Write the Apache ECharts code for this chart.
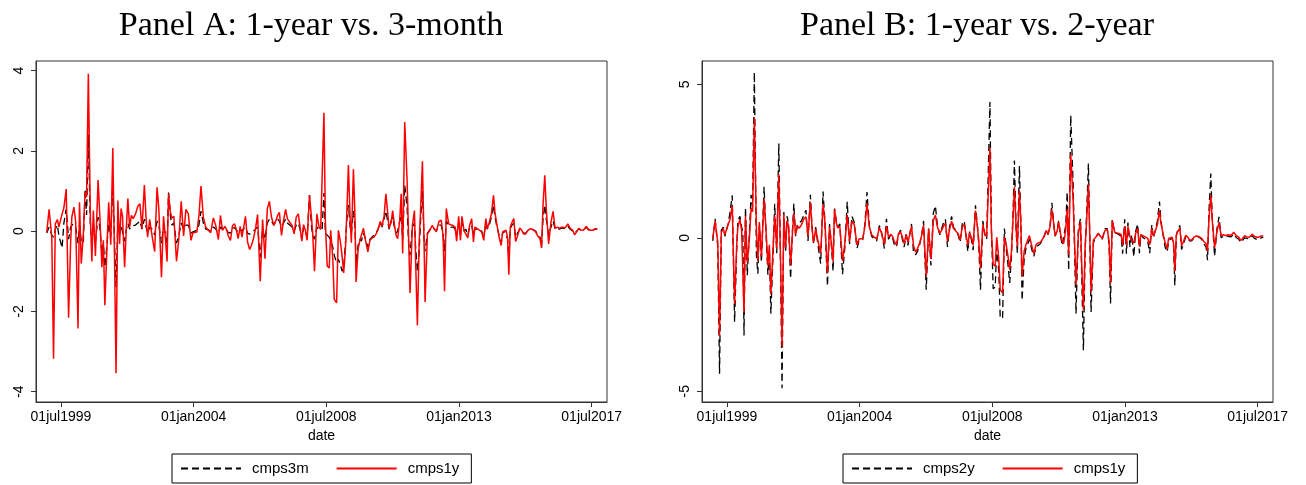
<!DOCTYPE html>
<html>
<head>
<meta charset="utf-8">
<title>cmps</title>
<script src="https://cdn.jsdelivr.net/npm/echarts@6/dist/echarts.min.js"></script>
<style>
  html, body { margin: 0; padding: 0; background: #fff; }
  #chart { width: 1306px; height: 485px; }
</style>
</head>
<body>
<div id="chart"></div>
<script>
// event dates as decimal years
const dates = [
  1999.02, 1999.10, 1999.19, 1999.25, 1999.31, 1999.38, 1999.43, 1999.54, 1999.60, 1999.68,
  1999.76, 1999.83, 1999.87, 1999.94, 2000.00, 2000.04, 2000.08, 2000.13, 2000.19, 2000.26,
  2000.32, 2000.37, 2000.43, 2000.50, 2000.55, 2000.60, 2000.67, 2000.76, 2000.82, 2000.89,
  2000.94, 2000.99, 2001.06, 2001.12, 2001.19, 2001.26, 2001.32, 2001.37, 2001.43, 2001.49,
  2001.54, 2001.59, 2001.66, 2001.72, 2001.77, 2001.83, 2001.89, 2001.95, 2002.03, 2002.11,
  2002.18, 2002.25, 2002.33, 2002.39, 2002.44, 2002.51, 2002.59, 2002.68, 2002.76, 2002.82,
  2002.91, 2002.98, 2003.04, 2003.10, 2003.15, 2003.21, 2003.26, 2003.33, 2003.42, 2003.50,
  2003.58, 2003.66, 2003.74, 2003.82, 2003.91, 2003.98, 2004.04, 2004.11, 2004.18, 2004.25,
  2004.33, 2004.41, 2004.50, 2004.58, 2004.67, 2004.75, 2004.84, 2004.91, 2004.98, 2005.06,
  2005.13, 2005.17, 2005.25, 2005.32, 2005.39, 2005.44, 2005.51, 2005.58, 2005.64, 2005.69,
  2005.76, 2005.83, 2005.90, 2005.96, 2006.03, 2006.10, 2006.17, 2006.21, 2006.26, 2006.34,
  2006.42, 2006.50, 2006.57, 2006.64, 2006.72, 2006.78, 2006.85, 2006.91, 2006.98, 2007.05,
  2007.12, 2007.18, 2007.26, 2007.34, 2007.41, 2007.48, 2007.55, 2007.61, 2007.67, 2007.73,
  2007.79, 2007.85, 2007.93, 2008.00, 2008.04, 2008.10, 2008.18, 2008.25, 2008.31, 2008.36,
  2008.42, 2008.47, 2008.53, 2008.60, 2008.65, 2008.72, 2008.77, 2008.85, 2008.91, 2008.98,
  2009.04, 2009.09, 2009.15, 2009.21, 2009.25, 2009.31, 2009.35, 2009.42, 2009.47, 2009.51,
  2009.58, 2009.64, 2009.69, 2009.76, 2009.83, 2009.91, 2009.98, 2010.05, 2010.12, 2010.19,
  2010.26, 2010.33, 2010.39, 2010.46, 2010.52, 2010.57, 2010.63, 2010.70, 2010.75, 2010.81,
  2010.87, 2010.92, 2010.99, 2011.04, 2011.09, 2011.16, 2011.24, 2011.29, 2011.34, 2011.42,
  2011.49, 2011.53, 2011.59, 2011.65, 2011.70, 2011.76, 2011.82, 2011.85, 2011.93, 2012.01,
  2012.09, 2012.15, 2012.23, 2012.32, 2012.40, 2012.46, 2012.51, 2012.57, 2012.65, 2012.72,
  2012.80, 2012.87, 2012.92, 2012.99, 2013.05, 2013.10, 2013.17, 2013.23, 2013.30, 2013.36,
  2013.43, 2013.49, 2013.54, 2013.62, 2013.70, 2013.77, 2013.84, 2013.91, 2013.96, 2014.03,
  2014.10, 2014.17, 2014.22, 2014.29, 2014.36, 2014.43, 2014.48, 2014.54, 2014.60, 2014.65,
  2014.69, 2014.74, 2014.80, 2014.86, 2014.92, 2014.99, 2015.06, 2015.13, 2015.19, 2015.26,
  2015.34, 2015.42, 2015.51, 2015.60, 2015.68, 2015.75, 2015.80, 2015.85, 2015.91, 2015.96,
  2016.04, 2016.12, 2016.19, 2016.26, 2016.34, 2016.41, 2016.49, 2016.60, 2016.69, 2016.78,
  2016.86, 2016.92, 2016.99, 2017.06, 2017.14, 2017.22, 2017.32, 2017.39, 2017.47, 2017.54,
  2017.62, 2017.69
];

const cmps1y = [
  -0.02, 0.54, -0.15, -3.18, 0.18, 0.29, 0.10, 0.43, 0.58, 1.05,
  -2.16, -0.27, 0.35, 0.60, 0.24, 0.26, -2.43, 0.72, -0.81, -0.07,
  0.97, 0.85, 3.92, 0.31, -0.76, 0.51, -0.62, 1.27, 0.37, -0.90,
  -0.23, -1.85, -0.44, 0.72, -0.34, 2.07, -0.77, -3.54, 0.76, -0.32,
  0.56, 0.37, -0.90, 0.10, 0.81, 0.10, 0.39, 0.31, 0.43, 0.62,
  0.68, 0.06, 1.15, 0.29, -0.15, 0.29, -0.11, -0.51, 1.09, 0.56,
  -1.15, 0.37, -0.15, -0.76, 0.93, 0.49, 0.32, 0.37, -0.75, -0.19,
  0.74, -0.12, 0.54, 0.43, -0.23, -0.04, 0.00, -0.02, 0.37, 1.12,
  0.35, 0.10, 0.02, -0.04, 0.33, 0.14, -0.21, 0.39, 0.02, 0.12,
  0.02, -0.11, -0.23, 0.14, 0.18, 0.06, -0.19, 0.12, -0.15, 0.06,
  0.37, -0.27, -0.46, -0.36, -0.19, 0.06, 0.41, -0.36, -1.25, 0.29,
  -0.69, 0.56, 0.74, 0.35, 0.14, 0.24, 0.39, 0.47, -0.11, 0.27,
  0.54, 0.31, 0.22, 0.14, -0.07, 0.35, 0.43, 0.10, -0.25, 0.16,
  0.02, -0.23, 0.89, 0.31, -0.07, -1.00, 0.43, 0.12, 0.04, 0.02,
  2.95, 0.22, -0.87, -0.92, 0.02, -0.69, -1.70, -1.79, 0.02, -0.27,
  -0.65, -1.04, -0.44, 0.76, 1.65, 0.27, -0.29, 1.54, 0.43, -1.27,
  -0.44, -0.23, -0.23, 0.07, -0.23, -0.52, -0.23, -0.17, -0.15, -0.07,
  0.06, 0.24, 0.12, 0.37, 0.93, 0.56, 0.07, 0.22, 0.51, 0.16,
  -0.11, -0.19, 0.27, 0.93, -0.56, 2.72, 1.26, -0.11, -1.54, 0.14,
  0.51, -0.77, -2.35, -0.27, 0.56, 1.74, -0.44, -1.77, -0.07, 0.02,
  0.14, 0.10, -0.02, 0.24, 0.27, -0.11, -1.50, 0.56, 0.18, 0.16,
  0.14, 0.10, -0.25, 0.37, -0.23, 0.37, 0.02, 0.06, -0.17, 0.14,
  0.31, -0.27, 0.10, 0.06, 0.02, -0.02, -0.23, 0.31, 0.06, 0.22,
  0.43, 0.89, 0.47, 0.14, -0.15, -0.36, -0.02, -0.02, 0.02, -0.19,
  -1.09, 0.10, 0.22, 0.31, -0.26, -0.11, 0.08, 0.02, -0.07, -0.07,
  0.02, 0.06, 0.04, -0.02, -0.13, -0.19, -0.42, 0.64, 1.39, 0.56,
  -0.32, 0.22, 0.49, 0.07, 0.10, 0.07, 0.10, 0.08, 0.18, 0.06,
  0.02, -0.09, -0.02, 0.07, 0.03, 0.02, 0.12, 0.04, 0.02, 0.02,
  0.06, 0.06
];

const cmps3m = [
  -0.05, 0.10, -0.10, -0.15, 0.05, 0.15, -0.10, -0.42, 0.20, 0.55,
  -0.20, 0.10, 0.15, 0.18, 0.10, 0.12, -0.30, 0.15, -0.25, -0.30,
  1.05, 0.40, 2.40, 0.10, -0.35, 0.20, -0.25, 0.35, 0.10, -0.55,
  -0.30, -0.90, -0.35, 0.20, -0.15, 1.20, -0.30, -1.40, 0.25, -0.10,
  0.15, 0.12, -0.25, 0.05, 0.20, 0.05, 0.12, 0.10, 0.15, 0.20,
  0.25, 0.05, 0.30, 0.10, -0.05, 0.10, 0.05, -0.10, 0.25, 0.15,
  -0.30, 0.10, -0.05, -0.30, 0.96, 0.40, 0.15, 0.20, -0.30, -0.10,
  0.20, 0.05, 0.15, 0.15, -0.05, -0.02, 0.00, 0.02, 0.15, 0.50,
  0.20, 0.05, 0.03, 0.00, 0.10, 0.05, -0.05, 0.10, 0.05, 0.05,
  0.02, -0.03, -0.05, 0.08, 0.08, 0.04, -0.02, 0.05, 0.00, 0.05,
  0.10, -0.05, -0.08, -0.05, 0.00, 0.05, 0.10, -0.20, -0.65, 0.05,
  -0.20, 0.20, 0.30, 0.25, 0.15, 0.25, 0.30, 0.25, 0.10, 0.20,
  0.30, 0.20, 0.15, 0.10, 0.00, 0.15, 0.20, 0.05, -0.20, 0.10,
  0.00, -0.15, 0.90, 0.10, -0.10, -0.20, 0.10, 0.05, 0.02, 0.05,
  0.95, -0.05, -0.10, -0.15, -0.25, -0.40, -0.60, -0.80, -0.70, -0.85,
  -1.00, -0.90, -0.30, 0.40, 0.65, 0.10, -0.05, 0.50, 0.15, -0.80,
  -0.35, -0.20, -0.25, -0.05, -0.20, -0.40, -0.20, -0.15, -0.10, -0.05,
  0.05, 0.20, 0.10, 0.30, 0.50, 0.30, 0.05, 0.25, 0.35, 0.10,
  -0.05, 0.00, 0.25, 0.40, -0.20, 1.15, 0.60, -0.30, -0.60, 0.10,
  0.20, -0.40, -1.00, -0.50, 0.30, 1.00, -0.30, -0.50, -0.05, 0.03,
  0.10, 0.08, 0.00, 0.15, 0.15, -0.10, -0.50, 0.25, 0.15, 0.10,
  0.10, 0.05, -0.10, 0.20, -0.10, 0.20, 0.00, 0.05, -0.10, 0.10,
  0.15, -0.10, 0.05, 0.05, 0.02, 0.00, -0.15, 0.20, 0.05, 0.15,
  0.35, 0.65, 0.35, 0.10, -0.10, -0.30, -0.05, 0.00, 0.00, -0.20,
  -0.70, 0.05, 0.15, 0.20, -0.15, -0.05, 0.05, 0.02, -0.05, -0.05,
  0.02, 0.05, 0.03, 0.00, -0.10, -0.15, -0.40, 0.30, 0.65, 0.30,
  -0.10, 0.10, 0.25, 0.05, 0.07, 0.05, 0.08, 0.06, 0.12, 0.04,
  0.00, -0.05, 0.00, 0.05, 0.02, 0.02, 0.10, 0.03, 0.02, 0.02,
  0.05, 0.05
];

const cmps2y = [
  -0.10, 0.62, -0.30, -4.43, 0.25, 0.35, 0.05, 0.45, 0.80, 1.38,
  -2.74, -0.45, 0.55, 0.70, 0.35, 0.15, -3.18, 1.00, -1.22, 0.10,
  1.40, 1.00, 5.40, -0.57, -1.17, 0.40, -0.79, 1.66, 0.30, -1.20,
  -0.40, -2.47, -0.70, 1.11, -0.50, 3.07, -1.00, -4.90, 0.84, -0.45,
  0.70, 0.45, -1.33, 0.20, 1.11, 0.05, 0.45, 0.40, 0.55, 0.75,
  0.90, -0.10, 1.40, 0.30, -0.20, 0.35, -0.25, -0.84, 1.51, 0.60,
  -1.57, 0.45, -0.20, -1.09, 0.95, 0.55, 0.35, 0.45, -1.19, -0.30,
  1.17, -0.20, 0.70, 0.50, -0.35, -0.10, -0.05, -0.05, 0.45, 1.49,
  0.40, 0.05, -0.05, -0.10, 0.40, 0.15, -0.35, 0.62, -0.05, 0.10,
  -0.05, -0.20, -0.30, 0.10, 0.25, 0.00, -0.30, 0.10, -0.25, 0.05,
  0.45, -0.50, -0.55, -0.45, -0.25, 0.05, 0.55, -0.55, -1.69, 0.30,
  -0.90, 0.80, 1.04, 0.40, 0.10, 0.30, 0.50, 0.60, -0.30, 0.35,
  0.70, 0.35, 0.25, 0.10, -0.15, 0.45, 0.55, 0.05, -0.45, 0.20,
  -0.05, -0.40, 1.06, 0.35, -0.20, -1.69, 0.55, 0.10, -0.05, -0.10,
  4.42, 0.30, -1.66, -1.60, -0.30, -1.10, -2.63, -2.60, 0.30, -0.40,
  -0.95, -1.47, -0.60, 1.00, 2.52, 0.20, -0.50, 2.34, 0.45, -2.04,
  -0.70, -0.35, -0.30, -0.05, -0.35, -0.60, -0.30, -0.25, -0.20, -0.10,
  0.05, 0.25, 0.10, 0.40, 1.14, 0.60, 0.05, 0.25, 0.55, 0.10,
  -0.25, -0.30, 0.40, 1.49, -1.06, 3.99, 1.80, -0.40, -2.47, 0.30,
  0.62, -1.10, -3.66, -0.40, 0.80, 2.42, -0.70, -2.42, -0.15, 0.00,
  0.15, 0.10, -0.05, 0.30, 0.30, -0.20, -2.14, 0.60, 0.15, 0.15,
  0.10, 0.05, -0.52, 0.60, -0.52, 0.50, -0.30, 0.10, -0.62, 0.20,
  0.45, -0.50, 0.10, 0.00, -0.05, -0.10, -0.50, 0.43, 0.00, 0.25,
  0.55, 1.18, 0.55, 0.10, -0.30, -0.46, -0.10, -0.05, 0.00, -0.30,
  -1.55, 0.05, 0.30, 0.40, -0.38, -0.20, 0.05, 0.00, -0.10, -0.10,
  0.00, 0.05, 0.02, -0.05, -0.20, -0.30, -0.73, 0.90, 2.09, 0.60,
  -0.60, 0.30, 0.68, 0.00, 0.05, 0.02, 0.05, 0.03, 0.12, 0.00,
  -0.05, -0.15, -0.08, 0.00, -0.02, -0.03, 0.06, -0.02, -0.05, -0.06,
  0.00, 0.02
];

const xTicks = [1999.5, 2004, 2008.5, 2013, 2017.5];
const xTickLabels = ['01jul1999', '01jan2004', '01jul2008', '01jan2013', '01jul2017'];
const yTicksA = [-4, -2, 0, 2, 4];
const yTicksB = [-5, 0, 5];

const sans = 'Liberation Sans, Arial, sans-serif';
const serif = 'Liberation Serif, Times New Roman, serif';
const frame = '#333';

function pairs(ys) {
  return dates.map((d, i) => [d, ys[i]]);
}

function xAxis(gridIndex) {
  return {
    type: 'value',
    gridIndex: gridIndex,
    min: 1998.655,
    max: 2018.02,
    name: 'date',
    nameLocation: 'middle',
    nameGap: 27,
    nameTextStyle: { fontFamily: sans, fontSize: 14, color: '#000' },
    axisLine: { show: true, onZero: false, lineStyle: { color: frame, width: 1 } },
    axisTick: { show: true, length: 5, customValues: xTicks, lineStyle: { color: frame } },
    axisLabel: {
      customValues: xTicks,
      margin: 8,
      fontFamily: sans,
      fontSize: 14,
      color: '#000',
      formatter: function (v) {
        const i = xTicks.findIndex(t => Math.abs(t - v) < 0.01);
        return i >= 0 ? xTickLabels[i] : '';
      }
    },
    splitLine: { show: false }
  };
}

function yAxis(gridIndex, min, max, ticks) {
  return {
    type: 'value',
    gridIndex: gridIndex,
    min: min,
    max: max,
    axisLine: { show: true, onZero: false, lineStyle: { color: frame, width: 1 } },
    axisTick: { show: true, length: 5, customValues: ticks, lineStyle: { color: frame } },
    axisLabel: { customValues: ticks, rotate: 90, margin: 10, fontFamily: sans, fontSize: 14, color: '#000' },
    splitLine: { show: false }
  };
}

function legend(names, left) {
  return {
    data: names,
    left: left,
    top: 454,
    orient: 'horizontal',
    selectedMode: false,
    padding: [7, 12, 7, 8],
    itemGap: 27,
    itemWidth: 60,
    itemHeight: 14,
    borderColor: '#000',
    borderWidth: 1,
    backgroundColor: '#fff',
    itemStyle: { opacity: 0 },
    textStyle: { fontFamily: sans, fontSize: 15, color: '#000', padding: [0, 0, 0, 6] }
  };
}

function dashed(name, data, xi) {
  return {
    name: name, type: 'line', xAxisIndex: xi, yAxisIndex: xi, data: data,
    symbol: 'none', animation: false, color: '#000',
    lineStyle: { color: '#000', width: 1.3, type: [7, 4] }
  };
}

function solid(name, data, xi) {
  return {
    name: name, type: 'line', xAxisIndex: xi, yAxisIndex: xi, data: data,
    symbol: 'none', animation: false, color: '#ff0000',
    lineStyle: { color: '#ff0000', width: 1.5 }
  };
}

const chart = echarts.init(document.getElementById('chart'));
chart.setOption({
  backgroundColor: '#fff',
  animation: false,
  title: [
    { text: 'Panel A: 1-year vs. 3-month', left: 306, top: 4, textAlign: 'center',
      textStyle: { fontFamily: serif, fontWeight: 'normal', fontSize: 34, color: '#000' } },
    { text: 'Panel B: 1-year vs. 2-year', left: 972, top: 4, textAlign: 'center',
      textStyle: { fontFamily: serif, fontWeight: 'normal', fontSize: 34, color: '#000' } }
  ],
  grid: [
    { left: 36, top: 61, width: 571, height: 341, show: true, borderColor: frame, borderWidth: 1 },
    { left: 702, top: 61, width: 571, height: 341, show: true, borderColor: frame, borderWidth: 1 }
  ],
  xAxis: [xAxis(0), xAxis(1)],
  yAxis: [yAxis(0, -4.26, 4.24, yTicksA), yAxis(1, -5.35, 5.76, yTicksB)],
  legend: [legend(['cmps3m', 'cmps1y'], 172), legend(['cmps2y', 'cmps1y'], 843)],
  series: [
    dashed('cmps3m', pairs(cmps3m), 0),
    solid('cmps1y', pairs(cmps1y), 0),
    dashed('cmps2y', pairs(cmps2y), 1),
    solid('cmps1y', pairs(cmps1y), 1)
  ]
});
</script>
</body>
</html>
